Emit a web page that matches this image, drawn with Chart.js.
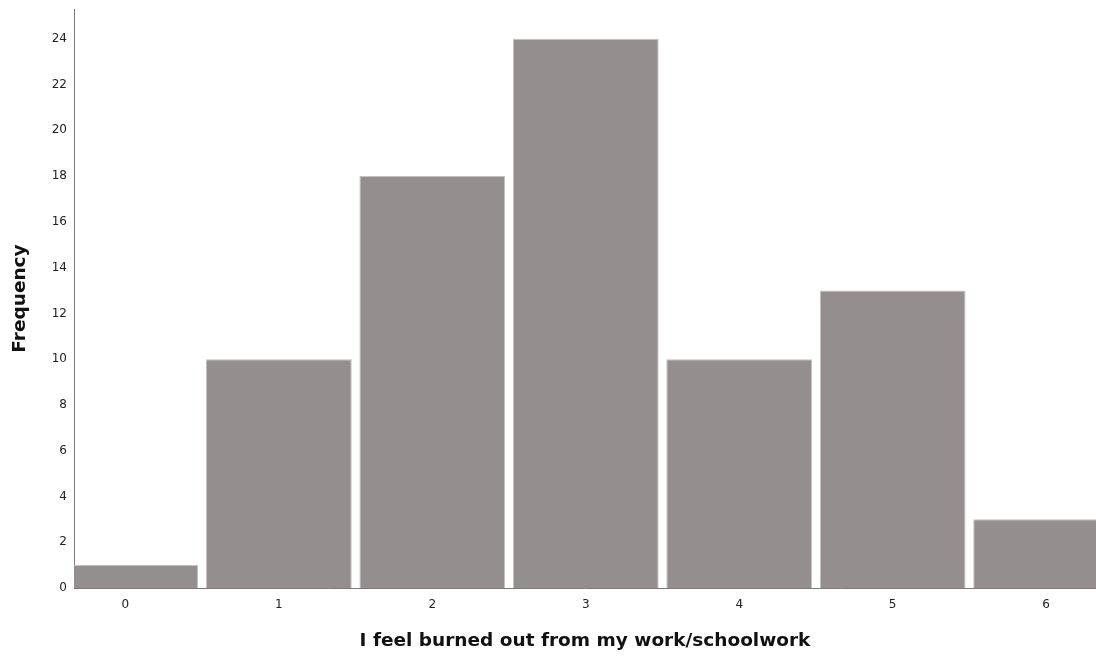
<!DOCTYPE html>
<html lang="en">
<head>
  <meta charset="UTF-8" />
  <title>Burnout histogram</title>
  <script src="https://cdn.jsdelivr.net/npm/chart.js"></script>
  <style>
    html, body { margin: 0; padding: 0; background: #fff; }
    #wrap { width: 1096px; height: 656px; }
  </style>
</head>
<body>
  <div id="wrap"><canvas id="histChart" width="1096" height="656"></canvas></div>

  <script>
    // responses on the 0-6 scale and how many people gave each
    const scores = [0, 1, 2, 3, 4, 5, 6];
    const counts = [1, 10, 18, 24, 10, 13, 3];
    const yTicks = [0, 2, 4, 6, 8, 10, 12, 14, 16, 18, 20, 22, 24];

    const xTitle = 'I feel burned out from my work/schoolwork';
    const yTitle = 'Frequency';

    const tickFont = { family: 'DejaVu Sans', size: 12 };
    const titleFont = { family: 'DejaVu Sans', size: 18.5, weight: 'bold' };

    const ctx = document.getElementById('histChart').getContext('2d');
    const chart = new Chart(ctx, {
      type: 'bar',
      data: {
        datasets: [{
          label: yTitle,
          data: scores.map((s, i) => ({ x: s, y: counts[i] })),
          backgroundColor: '#948f8e',
          borderColor: '#c4c0bf',
          borderWidth: 1,
          barPercentage: 0.95,
          categoryPercentage: 1,
          clip: 0
        }]
      },
      options: {
        responsive: false,
        animation: false,
        layout: { padding: { top: 9, right: 0, left: 0, bottom: 0 } },
        plugins: {
          legend: { display: false },
          tooltip: { enabled: false }
        },
        scales: {
          x: {
            type: 'linear',
            offset: false,
            min: -0.335,
            max: 6.325,
            grid: { display: false, drawTicks: false },
            border: { display: true, color: '#7a7a7a', width: 1 },
            ticks: { color: '#222', font: tickFont, padding: 10 },
            afterBuildTicks: s => { s.ticks = scores.map(v => ({ value: v })); },
            afterFit: s => { s.height = 68; s.paddingLeft = 0; s.paddingRight = 0; },
            title: {
              display: true,
              text: xTitle,
              color: '#111',
              font: titleFont,
              padding: { top: 0, bottom: 4 }
            }
          },
          y: {
            min: 0,
            max: 25.3,
            grid: { display: false, drawTicks: false },
            border: { display: true, color: '#7a7a7a', width: 1 },
            ticks: { color: '#222', font: tickFont, padding: 7 },
            afterBuildTicks: s => { s.ticks = yTicks.map(v => ({ value: v })); },
            afterFit: s => { s.width = 74; s.paddingTop = 0; s.paddingBottom = 0; },
            title: {
              display: true,
              text: yTitle,
              color: '#111',
              font: titleFont,
              padding: { top: 9, bottom: 0 }
            }
          }
        }
      }
    });
  </script>
</body>
</html>
